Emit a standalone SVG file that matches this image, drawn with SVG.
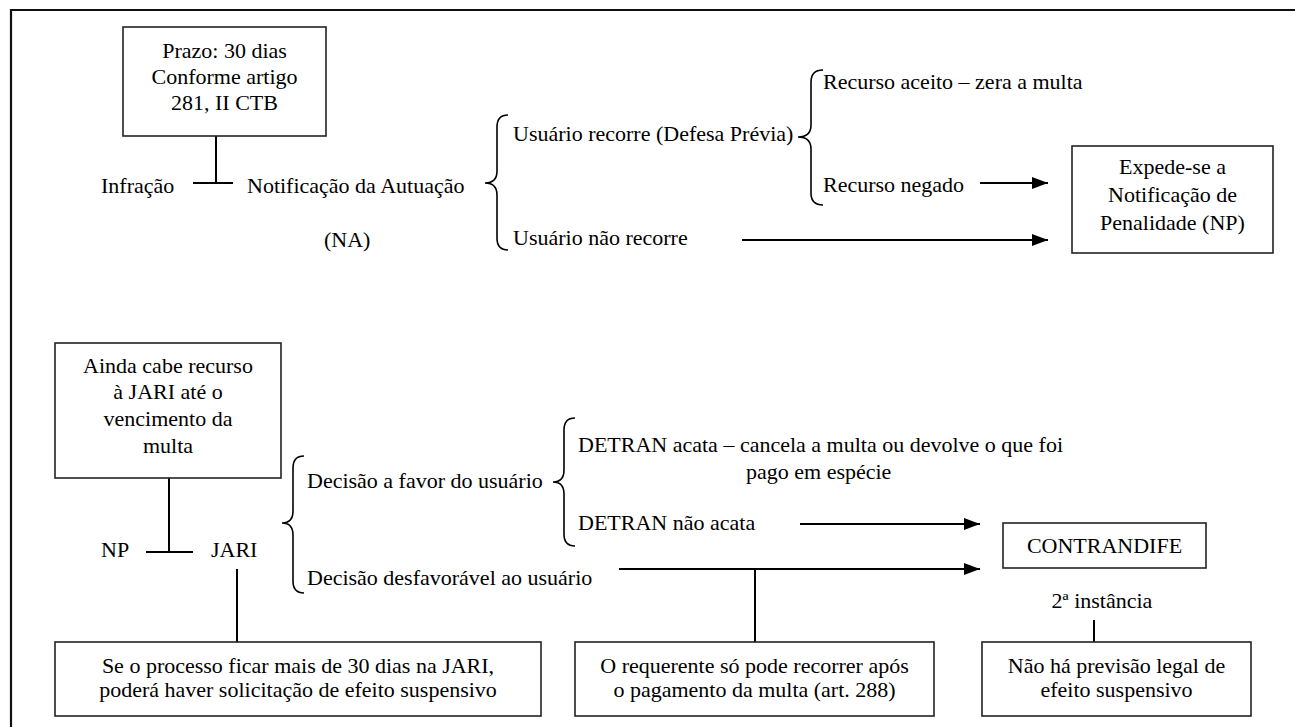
<svg xmlns="http://www.w3.org/2000/svg" width="1295" height="727" viewBox="0 0 1295 727" font-family="'Liberation Serif', 'DejaVu Serif', serif" font-size="22">
<defs>
<marker id="ah" markerWidth="16" markerHeight="12" refX="16" refY="6" orient="auto" markerUnits="userSpaceOnUse">
<path d="M0,0 L16,6 L0,12 Z" fill="#000"/>
</marker>
<style>
text{font-family:'Liberation Serif','DejaVu Serif',serif;font-size:22px;fill:#000}
.c{text-anchor:middle}
.box{fill:#fff;stroke:#222;stroke-width:1.6}
.ln{stroke:#000;stroke-width:2;fill:none}
.br{stroke:#000;stroke-width:1.6;fill:none}
.ar{stroke:#000;stroke-width:2;fill:none;marker-end:url(#ah)}
</style>
</defs>
<rect width="1295" height="727" fill="#fff"/>
<path d="M11,727 L11,10 L1295,10" stroke="#111" stroke-width="2.2" fill="none"/>

<g id="connectors">
<path class="ln" d="M216,136 L216,183 M193,183 L233,183"/>
<path class="ln" d="M169,478 L169,552 M146,552 L193,552"/>
<path class="ln" d="M237,569 L237,642"/>
<path class="ln" d="M755,569 L755,642"/>
<path class="ln" d="M1094,620 L1094,642"/>
<path class="ar" d="M980,183 L1048,183"/>
<path class="ar" d="M742,240 L1048,240"/>
<path class="ar" d="M800,524 L980,524"/>
<path class="ar" d="M619,569 L980,569"/>
<path class="br" d="M508,115 Q497,115 497,127 L497,171 Q497,183 485,183 Q497,183 497,195 L497,238 Q497,250 508,250"/>
<path class="br" d="M823,70 Q811,70 811,82 L811,125 Q811,137 798,137 Q811,137 811,149 L811,193 Q811,205 823,205"/>
<path class="br" d="M304,456 Q293,456 293,468 L293,511 Q293,523 282,523 Q293,523 293,535 L293,581 Q293,593 304,593"/>
<path class="br" d="M575,418 Q564,418 564,430 L564,470 Q564,482 553,482 Q564,482 564,494 L564,534 Q564,546 575,546"/>
</g>

<g id="prazo">
<rect class="box" x="123" y="27" width="203" height="109"/>
<text class="c" x="224.5" y="58">Prazo: 30 dias</text>
<text class="c" x="224.5" y="84">Conforme artigo</text>
<text class="c" x="224.5" y="110">281, II CTB</text>
</g>
<g id="infracao"><text x="101" y="193">Infração</text></g>
<g id="notificacao"><text x="247" y="193">Notificação da Autuação</text><text x="324" y="247">(NA)</text></g>
<g id="recorre"><text x="513" y="141">Usuário recorre (Defesa Prévia)</text></g>
<g id="naorecorre"><text x="513" y="245">Usuário não recorre</text></g>
<g id="aceito"><text x="823" y="89">Recurso aceito – zera a multa</text></g>
<g id="negado"><text x="823" y="192">Recurso negado</text></g>
<g id="np-box">
<rect class="box" x="1072" y="146" width="201" height="107"/>
<text class="c" x="1172.5" y="174">Expede-se a</text>
<text class="c" x="1172.5" y="202">Notificação de</text>
<text class="c" x="1172.5" y="230">Penalidade (NP)</text>
</g>

<g id="ainda">
<rect class="box" x="55" y="343" width="226" height="135"/>
<text class="c" x="168" y="373">Ainda cabe recurso</text>
<text class="c" x="168" y="399">à JARI até o</text>
<text class="c" x="168" y="426">vencimento da</text>
<text class="c" x="168" y="453">multa</text>
</g>
<g id="np"><text x="101" y="557">NP</text></g>
<g id="jari"><text x="211" y="557">JARI</text></g>
<g id="favor"><text x="307" y="488">Decisão a favor do usuário</text></g>
<g id="desfavoravel"><text x="307" y="585">Decisão desfavorável ao usuário</text></g>
<g id="acata">
<text x="578" y="452">DETRAN acata – cancela a multa ou devolve o que foi</text>
<text x="746" y="479">pago em espécie</text>
</g>
<g id="naoacata"><text x="578" y="530">DETRAN não acata</text></g>
<g id="contrandife">
<rect class="box" x="1003" y="523" width="203" height="45"/>
<text class="c" x="1104.5" y="553">CONTRANDIFE</text>
</g>
<g id="instancia"><text class="c" x="1102" y="608">2ª instância</text></g>

<g id="box-suspensivo">
<rect class="box" x="55" y="642" width="486" height="74"/>
<text class="c" x="298" y="673">Se o processo ficar mais de 30 dias na JARI,</text>
<text class="c" x="298" y="697">poderá haver solicitação de efeito suspensivo</text>
</g>
<g id="box-requerente">
<rect class="box" x="575" y="642" width="359" height="74"/>
<text class="c" x="754.5" y="673">O requerente só pode recorrer após</text>
<text class="c" x="754.5" y="697">o pagamento da multa (art. 288)</text>
</g>
<g id="box-previsao">
<rect class="box" x="982" y="642" width="269" height="74"/>
<text class="c" x="1116.5" y="673">Não há previsão legal de</text>
<text class="c" x="1116.5" y="697">efeito suspensivo</text>
</g>
</svg>
